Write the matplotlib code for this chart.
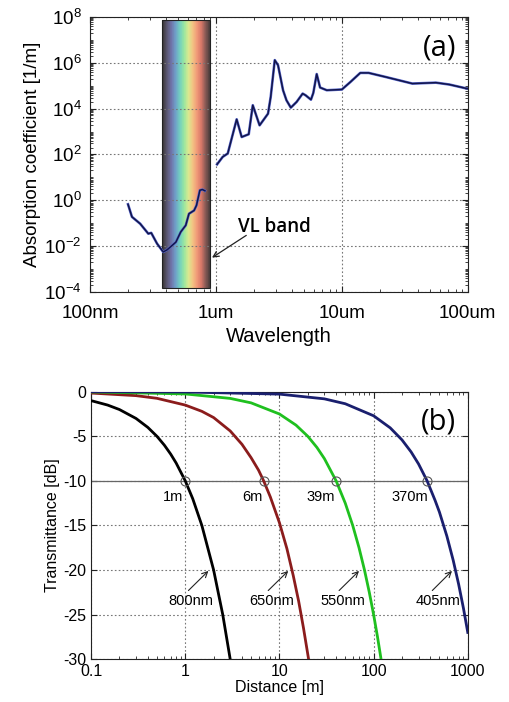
import numpy as np
import matplotlib
matplotlib.use('Agg')
import matplotlib.pyplot as plt
from matplotlib.colors import LinearSegmentedColormap
from matplotlib.patches import Rectangle
from matplotlib.ticker import LogLocator, NullFormatter

plt.rcParams['font.family'] = ['Liberation Sans', 'DejaVu Sans']
plt.rcParams['mathtext.fontset'] = 'custom'
plt.rcParams['mathtext.rm'] = 'Liberation Sans'

# ---- panel (a): absorption coefficient of water ----
uv_wl = [0.2, 0.215, 0.25, 0.29, 0.306, 0.34, 0.381, 0.41, 0.48, 0.525, 0.575,
         0.61, 0.67, 0.70, 0.745, 0.78, 0.817]
uv_abs = [0.67, 0.19, 0.095, 0.035, 0.038, 0.013, 0.0056, 0.007, 0.015, 0.042,
          0.081, 0.26, 0.36, 0.6, 2.75, 2.95, 2.6]
ir_wl = [1.02, 1.13, 1.24, 1.46, 1.60, 1.82, 1.96, 2.22, 2.59, 2.72, 2.93, 3.11,
         3.41, 3.63, 3.93, 4.37, 4.88, 5.15, 5.68, 5.93, 6.31, 6.71, 7.59, 10.0,
         11.7, 14.0, 16.3, 22.2, 36.3, 55.8, 71.3, 106]
ir_abs = [37, 78, 110, 3400, 575, 760, 14000, 1860, 6000, 32000, 1.3e6, 7.8e5,
          6.3e4, 2.3e4, 1.1e4, 1.95e4, 4.5e4, 3.8e4, 2.45e4, 4.8e4, 3.2e5, 8.3e4,
          6.3e4, 6.8e4, 1.45e5, 3.6e5, 3.6e5, 2.4e5, 1.23e5, 1.35e5, 1.12e5, 6.8e4]
a_xticks = [0.1, 1, 10, 100]
a_xlabels = ['100nm', '1um', '10um', '100um']
a_yticks = [1e-4, 1e-2, 1e0, 1e2, 1e4, 1e6, 1e8]
a_ylabels = [r'$\mathregular{10^{-4}}$', r'$\mathregular{10^{-2}}$', r'$\mathregular{10^{0}}$',
             r'$\mathregular{10^{2}}$', r'$\mathregular{10^{4}}$', r'$\mathregular{10^{6}}$',
             r'$\mathregular{10^{8}}$']
band_lo, band_hi = 0.375, 0.895
band_colors = ['#3b3636', '#5a5670', '#6f73a8', '#6f9fc8', '#72cfc0', '#98e6a0',
               '#d8ea90', '#f2c483', '#f19a78', '#d87868', '#8a5a55', '#4a3c3c']

# ---- panel (b): transmittance vs distance ----
d800 = [0.1, 0.15, 0.2, 0.3, 0.4, 0.5, 0.6, 0.7, 0.8, 1.0, 1.2, 1.5, 2.0, 2.5, 3.0]
t800 = [-1, -1.5, -2, -3, -4, -5, -6, -7, -8, -10, -12, -15, -20, -25, -30]
d650 = [0.1, 0.3, 0.5, 1, 1.5, 2, 3, 4, 5, 6, 6.8, 8, 10, 12, 14, 16, 18, 20.4]
t650 = [-0.15, -0.44, -0.74, -1.5, -2.2, -2.9, -4.4, -5.9, -7.4, -8.8, -10,
        -11.8, -14.7, -17.6, -20.6, -23.5, -26.5, -30]
d550 = [0.1, 1, 3, 5, 10, 15, 20, 25, 30, 40, 50, 60, 70, 80, 90, 100, 110, 120]
t550 = [-0.025, -0.25, -0.75, -1.25, -2.5, -3.75, -5, -6.25, -7.5, -10, -12.5,
        -15, -17.5, -20, -22.5, -25, -27.5, -30]
d405 = [0.1, 1, 10, 30, 50, 100, 150, 200, 250, 300, 370, 450, 500, 600, 700,
        800, 900, 1000]
t405 = [0, -0.03, -0.27, -0.8, -1.35, -2.7, -4.05, -5.4, -6.75, -8.1, -10,
        -12.2, -13.5, -16.2, -18.9, -21.6, -24.3, -27]
curve_colors = ['#000000', '#8b1c1c', '#1fc01f', '#1a1f6e']
wl_names = ['800nm', '650nm', '550nm', '405nm']
d10 = [1.0, 6.8, 40, 370]
d10_names = ['1m', '6m', '39m', '370m']
d10_label_x = [0.74, 5.2, 27.3, 242]
arrow_head_x = [1.76, 12.4, 70, 680]
arrow_tail_x = [1.08, 7.6, 43, 420]
arrow_text_x = [1.15, 8.2, 46.8, 479]

fig = plt.figure(figsize=(5.09, 7.02), dpi=100)

# ================= (a) =================
ax = fig.add_axes([0.177, 0.584, 0.742, 0.392])
ax.set_xscale('log')
ax.set_yscale('log')
ax.set_xlim(0.1, 100)
ax.set_ylim(1e-4, 1e8)

cmap = LinearSegmentedColormap.from_list('vl', band_colors)
xe = np.geomspace(band_lo, band_hi, 120)
ye = [10 ** -3.81, 10 ** 7.85]
ax.pcolormesh(xe, ye, np.linspace(0, 1, 119)[None, :], cmap=cmap, shading='flat', zorder=1)
ax.add_patch(Rectangle((band_lo, 10 ** -3.81), band_hi - band_lo, 10 ** 7.85 - 10 ** -3.81,
                       fill=False, edgecolor='#222222', lw=0.8, zorder=2))

for wl, ab in [(uv_wl, uv_abs), (ir_wl, ir_abs)]:
    ax.plot(wl, ab, color='#5a6ad0', lw=1.9, zorder=3)
    ax.plot(wl, ab, color='#12154a', lw=1.1, zorder=4)

ax.set_xticks(a_xticks)
ax.set_xticklabels(a_xlabels, fontsize=13.5)
ax.set_yticks(a_yticks)
ax.set_yticklabels(a_ylabels, fontsize=13.5)
ax.xaxis.set_minor_locator(LogLocator(base=10, subs=np.arange(2, 10), numticks=20))
ax.yaxis.set_minor_locator(LogLocator(base=10, subs=np.arange(1, 10), numticks=40))
ax.xaxis.set_minor_formatter(NullFormatter())
ax.yaxis.set_minor_formatter(NullFormatter())
ax.tick_params(which='both', direction='in', top=True, right=True, color='#222222')
ax.tick_params(which='major', length=4)
ax.tick_params(which='minor', length=2)
ax.tick_params(axis='x', which='major', pad=9)
ax.tick_params(axis='y', which='major', pad=6)
ax.grid(True, which='major', color='#777777', ls=(0, (1.5, 2)), lw=0.8)
ax.set_xlabel('Wavelength', fontsize=14.5, labelpad=4)
ax.set_ylabel('Absorption coefficient [1/m]', fontsize=13.5, labelpad=2)
for s in ax.spines.values():
    s.set_color('#222222')
ax.text(0.97, 0.94, '(a)', transform=ax.transAxes, ha='right', va='top',
        fontsize=21, family=['Open Sans', 'DejaVu Sans'])
ax.text(2.9, 10 ** -1.16, 'VL band', fontsize=13.5, family=['Open Sans', 'DejaVu Sans'],
        weight='semibold', ha='center', va='center')
ax.annotate('', xy=(0.93, 10 ** -2.5), xytext=(1.74, 10 ** -1.53),
            arrowprops=dict(arrowstyle='->', color='#222222', lw=0.9,
                            shrinkA=0, shrinkB=0))

# ================= (b) =================
bx = fig.add_axes([0.179, 0.061, 0.740, 0.381])
bx.set_xscale('log')
bx.set_xlim(0.1, 1000)
bx.set_ylim(-30, 0)
bx.set_yticks([0, -5, -10, -15, -20, -25, -30])
bx.set_yticklabels(['0', '-5', '-10', '-15', '-20', '-25', '-30'], fontsize=11.5)
bx.set_xticks([0.1, 1, 10, 100, 1000])
bx.set_xticklabels(['0.1', '1', '10', '100', '1000'], fontsize=11.5)
bx.xaxis.set_minor_locator(LogLocator(base=10, subs=np.arange(2, 10), numticks=20))
bx.xaxis.set_minor_formatter(NullFormatter())
bx.tick_params(which='both', direction='in', top=True, right=True, color='#222222')
bx.tick_params(which='major', length=4)
bx.tick_params(which='minor', length=2)
bx.grid(True, which='major', color='#777777', ls=(0, (1.5, 2)), lw=0.8)
bx.axhline(-10, color='#666666', lw=0.9, zorder=2)
for s in bx.spines.values():
    s.set_color('#222222')

for d, t, c in [(d800, t800, curve_colors[0]), (d650, t650, curve_colors[1]),
                (d550, t550, curve_colors[2]), (d405, t405, curve_colors[3])]:
    bx.plot(d, t, color=c, lw=2, zorder=3)

bx.plot(d10, [-10] * 4, 'o', mfc='none', mec='#555555', ms=6.5, mew=0.8, zorder=4)
for lx, name in zip(d10_label_x, d10_names):
    bx.text(lx, -11.8, name, fontsize=10.5, ha='center', va='center')
for hx, tlx, tx, name in zip(arrow_head_x, arrow_tail_x, arrow_text_x, wl_names):
    bx.text(tx, -23.5, name, fontsize=10.5, ha='center', va='center')
    bx.annotate('', xy=(hx, -20.1), xytext=(tlx, -22.3),
                arrowprops=dict(arrowstyle='->', color='#222222', lw=0.8,
                                shrinkA=0, shrinkB=0))

bx.set_xlabel('Distance [m]', fontsize=11.5, labelpad=1)
bx.set_ylabel('Transmittance [dB]', fontsize=11.5, labelpad=2)
bx.text(0.97, 0.94, '(b)', transform=bx.transAxes, ha='right', va='top',
        fontsize=21, family=['Open Sans', 'DejaVu Sans'])

fig.savefig('out.png', dpi=100)
